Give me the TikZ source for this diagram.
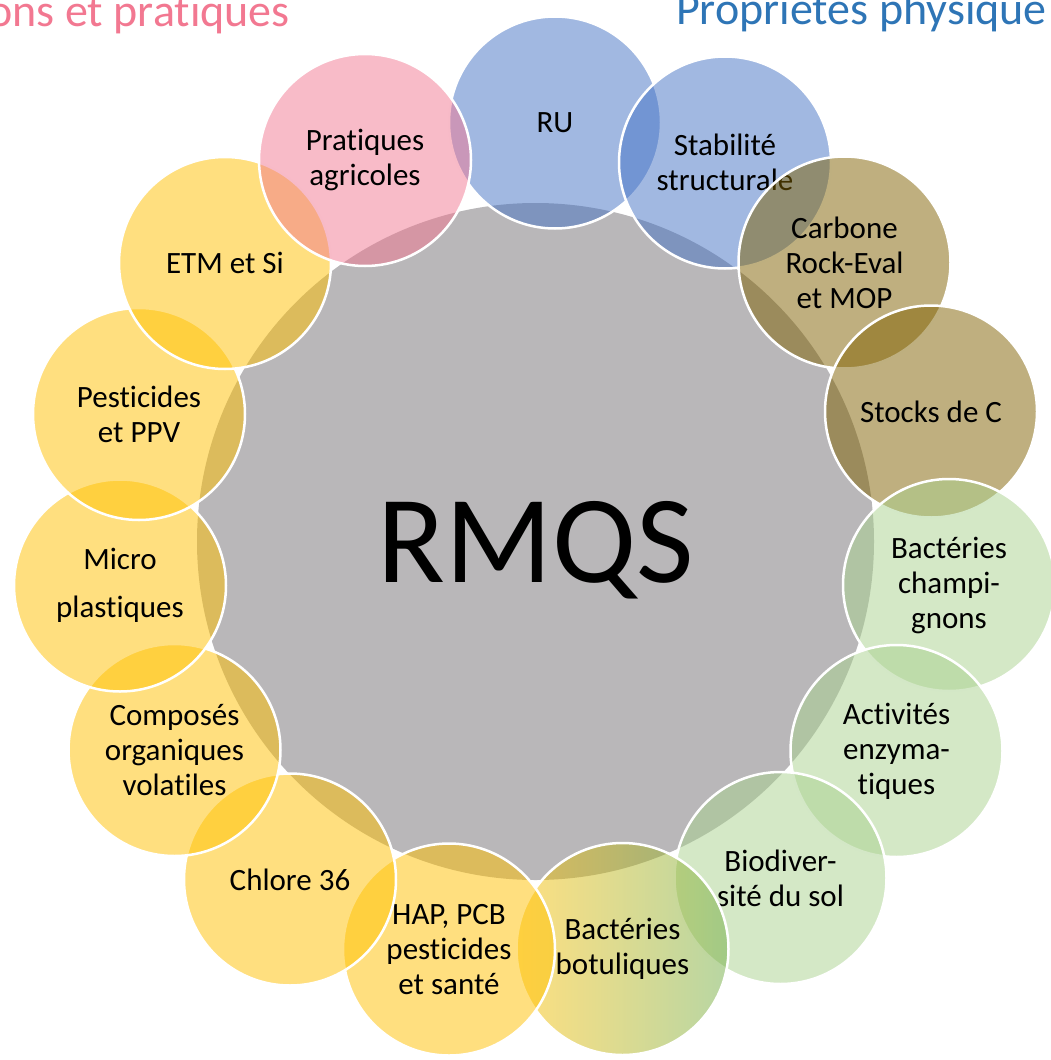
\documentclass[tikz,border=0pt]{standalone}
\usepackage{fontspec}
\setmainfont[Ligatures=NoCommon]{Carlito}
\usepackage{tikz}

\definecolor{bleuPhys}{HTML}{4472C4}
\definecolor{brunCarb}{HTML}{7F6000}
\definecolor{vertBio}{HTML}{A9D18E}
\definecolor{vertFonce}{HTML}{70AD47}
\definecolor{jauneCont}{HTML}{FFC000}
\definecolor{rosePrat}{RGB}{241,119,145}
\definecolor{grisCentre}{RGB}{185,183,185}
\definecolor{titreRose}{RGB}{242,120,145}
\definecolor{titreBleu}{HTML}{2E75B6}

\begin{document}
\begin{tikzpicture}[x=1pt, y=-1pt]
  % styles
  \tikzset{
    bulle/.style={circle, draw=white, line width=2.5pt, minimum size=212pt, inner sep=0pt,
      align=center, fill opacity=0.5, text opacity=1, font=\fontsize{31}{35}\selectfont},
    bulleBleu/.style={bulle, fill=bleuPhys},
    bulleBrun/.style={bulle, fill=brunCarb},
    bulleVert/.style={bulle, fill=vertBio},
    bulleJaune/.style={bulle, fill=jauneCont},
    bulleRose/.style={bulle, fill=rosePrat},
    titre/.style={inner sep=0pt, font=\fontsize{46}{52}\selectfont}
  }
  \path[use as bounding box, clip] (0,0) rectangle (1051,1060);
  % centre
  \node[circle, fill=grisCentre, minimum size=677pt, inner sep=0pt, text depth=0pt,
    font=\fontsize{125}{130}\selectfont] (rmqs) at (535.5,541.5) {RMQS};
  % titres
  \node[titre, text=titreRose, anchor=base east] (titrePrat) at (290,26) {ons et pratiques};
  \node[titre, text=titreBleu, anchor=base west] (titrePhys) at (676,24) {Propriétés physique};
  % cercles (sens horaire depuis le haut)
  \node[bulleBleu] (ru) at (555,122.5) {RU};
  \node[bulleBleu] (stabilite) at (725,162.5) {Stabilité\\structurale};
  \node[bulleBrun] (carbone) at (844.5,262.5) {Carbone\\Rock-Eval\\et MOP};
  \node[bulleBrun] (stocks) at (931,411.5) {Stocks de C};
  \node[bulleVert] (bacteries) at (949,585) {Bactéries\\champi-\\gnons};
  \node[bulleVert] (enzymes) at (896.5,751) {Activités\\enzyma-\\tiques};
  \node[bulleVert] (biodiv) at (780.5,878) {Biodiver-\\sité du sol};
  \node[bulle, left color=jauneCont, right color=vertFonce] (botul) at (622.5,949) {Bactéries\\botuliques};
  \node[bulleJaune] (hap) at (449,949.5) {HAP, PCB\\pesticides\\et santé};
  \node[bulleJaune] (chlore) at (290,879.5) {Chlore 36};
  \node[bulleJaune] (cov) at (174.5,750) {Composés\\organiques\\volatiles};
  \node[bulleJaune] (micro) at (120,585.5) {Micro\\[13pt]plastiques};
  \node[bulleJaune] (pesticides) at (139,414) {Pesticides\\et PPV};
  \node[bulleJaune] (etm) at (225,263) {ETM et Si};
  \node[bulleRose] (pratiques) at (365,160) {Pratiques\\agricoles};
\end{tikzpicture}
\end{document}
